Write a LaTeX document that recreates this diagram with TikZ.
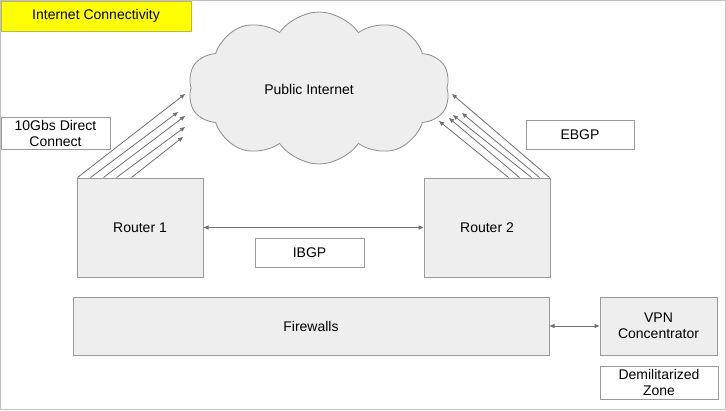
\documentclass[tikz,border=0pt]{standalone}
\usepackage{fontspec}
\setmainfont{Liberation Sans}
\usetikzlibrary{arrows.meta, shapes.symbols}
\definecolor{boxgray}{HTML}{EEEEEE}
\definecolor{linegray}{HTML}{9A9A9A}
\definecolor{arrowgray}{HTML}{707070}
\definecolor{titleyellow}{HTML}{FFFF00}
\definecolor{titleedge}{HTML}{B8B84A}

\begin{document}
\begin{tikzpicture}[x=1pt, y=-1pt, every node/.style={font=\fontsize{14}{16}\selectfont, align=center},
    >={Triangle[length=5pt,width=4pt]},
    devbox/.style={draw=linegray, fill=boxgray, line width=1pt, inner sep=0pt},
    labelbox/.style={draw=linegray, fill=white, line width=0.8pt, inner sep=0pt},
    link/.style={arrowgray, line width=0.8pt}]
    \useasboundingbox (0,0) rectangle (726,410);
    \draw[linegray!60, line width=1pt] (0.5,0.5) rectangle (725.5,409);

    \node[draw=titleedge, fill=titleyellow, line width=1pt, minimum width=190pt, minimum height=30pt, inner sep=0pt] (title) at (96,16) {Internet Connectivity};

    % cloud and labels
    \node[cloud, cloud puffs=10, cloud puff arc=110, aspect=2, draw=linegray!90!black, fill=boxgray, line width=0.8pt, minimum width=262pt, minimum height=152pt, inner sep=0pt] (inet) at (319,88) {};
    \node at (309,89) {Public Internet};
    \node[labelbox, minimum width=109pt, minimum height=32pt] (dc) at (55.5,133) {10Gbs Direct\\Connect};
    \node[labelbox, minimum width=108pt, minimum height=29pt] (ebgp) at (580,134.5) {EBGP};

    % routers
    \node[devbox, minimum width=126pt, minimum height=99pt] (r1) at (140,227.5) {Router 1};
    \node[devbox, minimum width=126pt, minimum height=99pt] (r2) at (487,227.5) {Router 2};
    \node[labelbox, minimum width=109pt, minimum height=29pt] (ibgp) at (309.5,252.5) {IBGP};
    \draw[link, <->] (r1.east) -- (r2.west);

    % uplinks to the cloud
    \foreach \sx/\ex/\ey [count=\i] in {1/185/94, 14/178/112, 27/185/116, 40/185/127, 55/183/137}{
        \coordinate (up\i) at (\ex,\ey);
        \draw[link, ->] ([xshift=\sx pt]r1.north west) -- (up\i);
    }
    \foreach \sx/\ex/\ey [count=\i] in {-1/452/94, -42/439/121, -31/449/118, -19/453/115, -11/462/113}{
        \coordinate (dn\i) at (\ex,\ey);
        \draw[link, ->] ([xshift=\sx pt]r2.north east) -- (dn\i);
    }

    % firewall and dmz
    \node[devbox, minimum width=476pt, minimum height=58pt] (fw) at (311,326) {Firewalls};
    \node[devbox, minimum width=117pt, minimum height=58pt] (vpn) at (658.5,326) {VPN\\Concentrator};
    \node[labelbox, minimum width=118pt, minimum height=33pt] (dmz) at (659,382.5) {Demilitarized\\Zone};
    \draw[link, <->] (fw.east) -- (vpn.west);
\end{tikzpicture}
\end{document}
